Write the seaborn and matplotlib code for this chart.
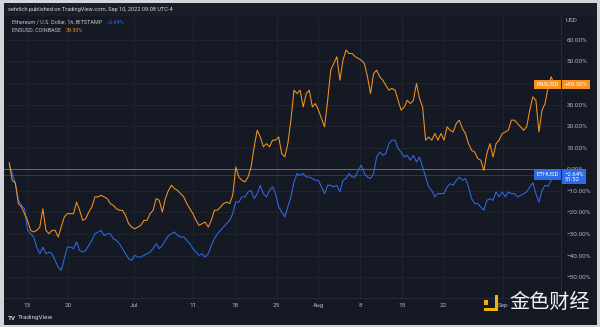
import numpy as np
import pandas as pd
import matplotlib
matplotlib.use("Agg")
import matplotlib.pyplot as plt
from matplotlib.patches import Rectangle
import seaborn as sns

# ---------------- data (percent change) ----------------
ens_pct = [
    3.1, -5.1, -6.3, -15.9, -17.5, -20.6, -23.7, -28.3, -29.1, -28.3,
    -26.8, -18.3, -28.3, -29.9, -28.3, -28.3, -31.4, -26.8, -22.1, -20.6,
    -20.6, -20.6, -15.2, -19.0, -23.7, -22.9, -19.8, -17.5, -12.8, -12.8,
    -12.1, -12.8, -13.6, -15.9, -16.7, -18.3, -19.0, -19.0, -21.4, -25.2,
    -26.8, -27.6, -26.8, -26.0, -23.7, -23.7, -20.6, -19.0, -13.6, -14.4,
    -19.8, -13.6, -9.8, -7.4, -9.0, -9.8, -11.3, -12.8, -15.9, -18.3,
    -20.6, -23.7, -26.0, -25.2, -24.5, -26.8, -23.7, -19.0, -19.0, -17.5,
    -15.9, -15.2, -15.9, -12.1, 1.1, -3.6, -5.1, -5.9, -3.6, 1.1,
    10.4, 18.1, 15.0, 10.4, 11.9, 10.4, 13.5, 13.5, 15.0, 7.3,
    5.7, 11.9, 22.8, 36.7, 35.1, 36.7, 28.9, 35.1, 36.7, 28.9,
    30.5, 27.4, 23.5, 19.7, 32.0, 46.0, 49.1, 52.2, 41.3, 50.6,
    55.3, 53.7, 53.7, 52.2, 51.4, 50.6, 49.1, 42.9, 35.1, 44.4,
    46.0, 42.9, 41.3, 39.0, 36.7, 37.5, 36.7, 32.0, 27.4, 28.9,
    32.0, 30.5, 32.0, 39.8, 32.8, 28.9, 13.5, 15.0, 13.5, 16.6,
    13.5, 16.6, 13.5, 19.7, 18.1, 17.3, 21.2, 22.8, 18.9, 16.6,
    11.9, 8.8, 8.0, 5.0, 4.2, -0.5, 7.3, 11.9, 5.7, 11.9,
    13.5, 16.6, 17.3, 18.1, 22.8, 22.8, 21.2, 19.7, 18.1, 19.7,
    27.4, 33.6, 32.0, 17.3, 27.4, 30.5, 38.2, 42.9, 39.3,
]
eth_pct = [
    2.6, -2.0, -6.3, -14.4, -16.7, -18.3, -28.3, -29.9, -31.4, -36.1,
    -39.2, -36.1, -39.2, -38.4, -39.2, -42.3, -45.4, -46.9, -41.5, -36.1,
    -36.1, -36.8, -33.7, -37.6, -38.4, -37.6, -35.3, -33.0, -29.9, -29.1,
    -28.3, -30.7, -29.9, -29.9, -32.2, -33.0, -34.5, -36.8, -39.2, -41.5,
    -42.3, -39.9, -40.7, -40.7, -39.9, -39.2, -38.4, -36.8, -34.5, -36.8,
    -35.3, -33.0, -30.7, -29.9, -29.1, -30.7, -31.4, -31.4, -33.0, -34.5,
    -36.8, -38.4, -39.9, -39.2, -40.7, -39.2, -35.3, -32.2, -29.9, -28.3,
    -26.8, -25.2, -23.7, -20.6, -15.2, -15.2, -12.8, -12.8, -10.5, -9.8,
    -13.6, -11.3, -7.4, -11.3, -12.8, -9.8, -8.2, -11.3, -17.5, -19.8,
    -22.1, -17.5, -12.8, -5.9, -2.0, -2.8, -2.0, -3.6, -3.6, -4.3,
    -5.1, -5.1, -8.2, -11.3, -7.4, -7.4, -8.2, -7.4, -10.5, -5.1,
    -4.3, -2.0, -3.6, -3.6, -0.5, 1.9, -2.0, -3.6, -4.3, -2.0,
    5.7, 8.0, 6.5, 7.3, 11.9, 13.5, 13.5, 9.6, 8.0, 5.7,
    6.5, 4.2, 6.5, 3.4, 5.7, 1.1, -3.6, -8.2, -9.8, -12.8,
    -11.3, -11.3, -11.3, -8.2, -6.7, -7.4, -5.1, -3.6, -5.1, -4.3,
    -8.2, -13.6, -15.9, -15.9, -17.5, -19.0, -14.4, -13.6, -14.4, -10.5,
    -12.8, -10.5, -12.8, -10.5, -11.3, -11.3, -12.8, -12.1, -11.3, -10.5,
    -8.2, -6.3, -11.3, -15.2, -9.8, -7.4, -7.9, -5.1, -2.64,
]
series_names = ["ETHUSD", "ENSUSD"]
start_time = "2022-06-10 01:00"
sample_step = "741min"

tick_dates = ["2022-06-13", "2022-06-20", "2022-07-01", "2022-07-11", "2022-07-18",
              "2022-07-25", "2022-08-01", "2022-08-08", "2022-08-15", "2022-08-22",
              "2022-09-01"]
tick_labels = ["13", "20", "Jul", "11", "18", "25", "Aug", "8", "15", "22", "Sep"]
y_ticks = [60, 50, 40, 30, 20, 10, 0, -10, -20, -30, -40, -50]
hidden_y_label = 40  # covered by the ENSUSD price label in the reference

header_text = "sehrlich published on TradingView.com, Sep 10, 2022 09:08 UTC-4"
legend_eth = "Ethereum / U.S. Dollar, 1h, BITSTAMP"
legend_ens = "ENSUSD, COINBASE"
eth_last_txt = "\u22122.64%"
ens_last_txt = "39.30%"

# ---------------- styling ----------------
sns.set_style("dark")
plt.rcParams["font.family"] = ["Roboto", "DejaVu Sans"]

BG = "#151924"
GRID = "#21252f"
TXT = "#b2b5be"
ORANGE = "#f7931e"
BLUE = "#2f6ae8"

times = pd.date_range(start_time, periods=len(ens_pct), freq=sample_step)
df = pd.concat([
    pd.DataFrame({"time": times, "pct": eth_pct, "series": series_names[0]}),
    pd.DataFrame({"time": times, "pct": ens_pct, "series": series_names[1]}),
], ignore_index=True)

W, H = 600, 327
fig = plt.figure(figsize=(W / 100, H / 100), dpi=100)
fig.patch.set_facecolor("#d4d5d8")

def px(x, y):
    return x / W, 1 - y / H

# dark panel + header band (behind everything)
fig.patches.append(Rectangle(px(4, 325), 593 / W, 322 / H, transform=fig.transFigure,
                             facecolor=BG, edgecolor="none", zorder=-10))
fig.patches.append(Rectangle(px(4, 16), 593 / W, 13 / H, transform=fig.transFigure,
                             facecolor="#1b1e28", edgecolor="none", zorder=-9))

ax = fig.add_axes([4 / W, 1 - 298 / H, 557 / W, (298 - 16) / H])
ax.set_facecolor(BG)
ax.set_zorder(1)

sns.lineplot(data=df, x="time", y="pct", hue="series",
             palette={"ETHUSD": BLUE, "ENSUSD": ORANGE},
             hue_order=series_names, estimator=None, linewidth=0.75,
             legend=False, ax=ax)

x0 = pd.Timestamp("2022-06-13") - pd.Timedelta(days=3.83)
x1 = pd.Timestamp("2022-06-13") + pd.Timedelta(days=89.77)
ax.set_xlim(x0, x1)
ax.set_ylim(-59.7, 71.1)

ax.set_xticks(pd.to_datetime(tick_dates))
ax.set_xticklabels(tick_labels)
ax.set_yticks(y_ticks)
ax.set_yticklabels(["" if v == hidden_y_label else
                    ("\u2212" if v < 0 else "") + f"{abs(v):.2f}%" for v in y_ticks])
ax.yaxis.tick_right()
ax.tick_params(axis="y", length=0, pad=4, labelsize=4.6, colors=TXT)
ax.tick_params(axis="x", length=0, pad=3.5, labelsize=4.6, colors=TXT)
ax.set_xlabel("")
ax.set_ylabel("")
ax.grid(True, color=GRID, linewidth=0.6)
for s in ["top", "left"]:
    ax.spines[s].set_visible(False)
for s in ["right", "bottom"]:
    ax.spines[s].set_color("#2a2e39")
    ax.spines[s].set_linewidth(0.6)

# zero line and last-price line
ax.axhline(0, color="#6a6d78", linewidth=0.7, zorder=1)
ax.axhline(eth_pct[-1], color=BLUE, linewidth=0.5, alpha=0.6, zorder=1)

# price labels
yt = ax.get_yaxis_transform()
ax.text(0.976, ens_pct[-1], "ENSUSD", transform=yt, ha="center", va="center",
        fontsize=4.3, color="white", zorder=6, clip_on=False,
        bbox=dict(boxstyle="square,pad=0.35", fc=ORANGE, ec="none"))
ax.text(1.006, ens_pct[-1], "+39.30%", transform=yt, ha="left", va="center",
        fontsize=4.3, color="white", zorder=6, clip_on=False,
        bbox=dict(boxstyle="square,pad=0.4", fc=ORANGE, ec="none"))
ax.text(0.976, eth_pct[-1], "ETHUSD", transform=yt, ha="center", va="center",
        fontsize=4.3, color="white", zorder=6, clip_on=False,
        bbox=dict(boxstyle="square,pad=0.35", fc=BLUE, ec="none"))
ax.text(1.006, eth_pct[-1] + 1.6, eth_last_txt + "\n51:52", transform=yt, ha="left",
        va="top", fontsize=4.3, color="white", zorder=6, clip_on=False, linespacing=1.1,
        bbox=dict(boxstyle="square,pad=0.4", fc=BLUE, ec="none"))

# header & legend texts
fig.text(*px(8, 10), header_text, fontsize=4.1, color="#d1d4dc", va="center")
fig.text(*px(12, 22), legend_eth, fontsize=3.9, color="#c3c6ce", va="center")
fig.text(*px(107, 22), eth_last_txt, fontsize=3.9, color=BLUE, va="center")
fig.text(*px(12, 30), legend_ens, fontsize=3.9, color="#c3c6ce", va="center")
fig.text(*px(66, 30), ens_last_txt, fontsize=3.9, color=ORANGE, va="center")
fig.text(*px(566, 20), "USD", fontsize=4.6, color=TXT, va="center")

# TradingView footer
fig.text(*px(8, 318), "TV", fontsize=4.6, color="#d1d4dc", va="center", fontweight="bold")
fig.text(*px(18, 318), "TradingView", fontsize=4.6, color="#d1d4dc", va="center")

# watermark logo
YEL = "#f4b400"
for (x, y, w, h) in [(484, 300, 4.5, 4.5), (494.5, 295, 3.8, 16), (484, 307.5, 14, 3.8)]:
    fig.patches.append(Rectangle(px(x, y + h), w / W, h / H, transform=fig.transFigure,
                                 facecolor=YEL, edgecolor="none", zorder=5))
fig.text(*px(550, 302), "金色财经", fontsize=14.5, color="#f2f2f2", ha="center",
         va="center", family=["Noto Sans CJK SC", "DejaVu Sans"], zorder=6)

fig.savefig("out.png", dpi=100, facecolor=fig.get_facecolor())
